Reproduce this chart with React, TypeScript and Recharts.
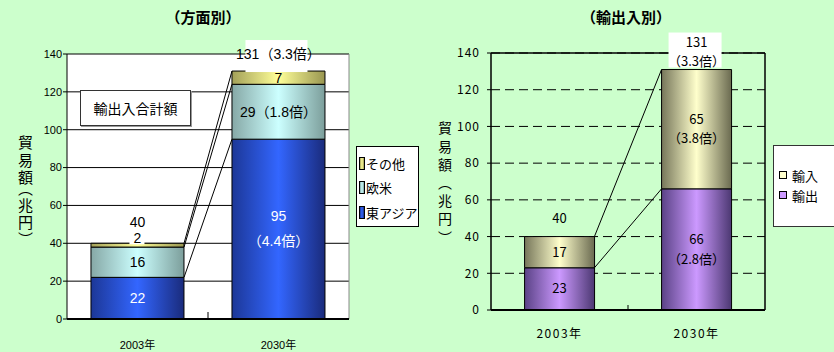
import {
  Bar,
  BarChart,
  CartesianGrid,
  LabelList,
  Legend,
  ReferenceLine,
  XAxis,
  YAxis,
} from 'recharts'

const JP = "'Noto Sans CJK JP', sans-serif"
const SANS = "'Liberation Sans', 'Noto Sans CJK JP', sans-serif"

const years = ['2003年', '2030年']
const yTicks = [0, 20, 40, 60, 80, 100, 120, 140]

// 方面別 (兆円)
const eastAsia = [22, 95]
const euroUS = [16, 29]
const otherArea = [2, 7]
const eastAsiaRatio = ['', '4.4倍']
const euroUSRatio = ['', '1.8倍']

// 輸出入別 (兆円)
const exportAmt = [23, 66]
const importAmt = [17, 65]
const exportRatio = ['', '2.8倍']
const importRatio = ['', '3.8倍']

const totalRatio = ['', '3.3倍']

const axisTitle = '貿易額（兆円）'

// each year sits in the middle of a one-unit slot on a 0..2 numeric x axis,
// so the series lines can be anchored to the bar edges
const areaRows = years.map((year, i) => ({
  pos: i + 0.5,
  year,
  eastAsia: eastAsia[i],
  euroUS: euroUS[i],
  other: otherArea[i],
  total: eastAsia[i] + euroUS[i] + otherArea[i],
}))

const tradeRows = years.map((year, i) => ({
  pos: i + 0.5,
  year,
  exp: exportAmt[i],
  imp: importAmt[i],
  total: exportAmt[i] + importAmt[i],
}))

const AREA_GAP = 0.17
const TRADE_GAP = 0.245

// edge / centre / edge colours for the cylinder-look fills
const shades = {
  blue: ['#1c3797', '#3366ff', '#1a2b7c'],
  cyan: ['#86a8a6', '#ccffff', '#7c9e9b'],
  yellow: ['#a3a058', '#ffff99', '#999650'],
  cream: ['#76765a', '#ffffcc', '#6a6a50'],
  purple: ['#5a4286', '#cc99ff', '#4c3872'],
}

const areaLegend = [
  { name: 'その他', c: shades.yellow },
  { name: '欧米', c: shades.cyan },
  { name: '東アジア', c: shades.blue },
]
const tradeLegend = [
  { name: '輸入', c: shades.cream },
  { name: '輸出', c: shades.purple },
]

const cylinder = (id: string, c: string[]) => (
  <linearGradient id={id} x1="0" y1="0" x2="1" y2="0">
    <stop offset="0" stopColor={c[0]} />
    <stop offset="0.5" stopColor={c[1]} />
    <stop offset="1" stopColor={c[2]} />
  </linearGradient>
)

const cssCylinder = (c: string[]) => `linear-gradient(90deg, ${c[0]}, ${c[1]}, ${c[2]})`

const rectOf = (p: any) => {
  const vb = p.viewBox ?? p
  return { x: vb.x as number, y: vb.y as number, width: vb.width as number, height: vb.height as number }
}

type InBarOpts = {
  ratios: string[]
  split: boolean
  color: string
  font: string
  size: number
  lead: number
}

// value (and growth ratio) centred inside a stacked segment
const inBar = (o: InBarOpts) => (p: any) => {
  const { x, y, width, height } = rectOf(p)
  const r = o.ratios[p.index]
  const rows = !r ? [`${p.value}`] : o.split ? [`${p.value}`, `（${r}）`] : [`${p.value}（${r}）`]
  const cx = x + width / 2
  const cy = y + height / 2 - ((rows.length - 1) * o.lead) / 2
  return (
    <text textAnchor="middle" fill={o.color} fontSize={o.size} fontFamily={o.font}>
      {rows.map((t, j) => (
        <tspan key={j} x={cx} y={cy + j * o.lead} dy="0.35em">
          {t}
        </tspan>
      ))}
    </text>
  )
}

// the thin その他 segment of 2003 gets its label on a white patch
const otherLabel = (p: any) => {
  const { x, y, width, height } = rectOf(p)
  const cx = x + width / 2
  if (p.index === 0) {
    return (
      <g>
        <rect x={cx - 8} y={y - 11} width={15} height={12} fill="#fff" />
        <text x={cx} y={y - 5} dy="0.35em" textAnchor="middle" fontSize={14} fontFamily={SANS}>
          {p.value}
        </text>
      </g>
    )
  }
  return (
    <text x={cx} y={y + height / 2} dy="0.35em" textAnchor="middle" fontSize={14} fontFamily={SANS}>
      {p.value}
    </text>
  )
}

const areaTotal = (p: any) => {
  const { x, y, width } = rectOf(p)
  const cx = x + width / 2
  const r = totalRatio[p.index]
  if (!r) {
    return (
      <text x={cx} y={y - 21} dy="0.35em" textAnchor="middle" fontSize={14} fontFamily={SANS}>
        {p.value}
      </text>
    )
  }
  return (
    <g>
      <rect x={cx - 33} y={y - 31} width={62} height={32} fill="#fff" />
      <text x={cx} y={y - 17} dy="0.35em" textAnchor="middle" fontSize={14} fontFamily={SANS}>
        {`${p.value}（${r}）`}
      </text>
    </g>
  )
}

const tradeTotal = (p: any) => {
  const { x, y, width } = rectOf(p)
  const cx = x + width / 2
  const r = totalRatio[p.index]
  if (!r) {
    return (
      <text x={cx} y={y - 18} dy="0.35em" textAnchor="middle" fontSize={13} fontFamily={JP}>
        {p.value}
      </text>
    )
  }
  return (
    <g>
      <rect x={cx - 28} y={y - 37} width={53} height={35} fill="#fff" />
      <text textAnchor="middle" fontSize={13} fontFamily={JP}>
        <tspan x={cx} y={y - 27} dy="0.35em">{p.value}</tspan>
        <tspan x={cx} y={y - 8} dy="0.35em">{`（${r}）`}</tspan>
      </text>
    </g>
  )
}

// year labels at 0.5 / 1.5, and a short upward tick on the slot boundary at 1
const yearTick = (margin: number, len: number, size: number, font: string, spacing: number) => (p: any) => {
  const v = p.payload.value
  if (v === 1) {
    const y0 = p.y - margin
    return <line x1={p.x} x2={p.x} y1={y0} y2={y0 - len} stroke="#000" />
  }
  return (
    <text x={p.x} y={p.y} dy="0.71em" textAnchor="middle" fontSize={size} fontFamily={font} letterSpacing={spacing}>
      {years[Math.round(v - 0.5)]}
    </text>
  )
}

const seriesLines = (levels: number[][], gap: number) =>
  levels.map((lv, k) => (
    <ReferenceLine
      key={`s${k}`}
      segment={[
        { x: 1 - gap, y: lv[0] },
        { x: 1 + gap, y: lv[1] },
      ]}
      stroke="#000"
    />
  ))

const areaLevels = [
  areaRows.map((r) => r.eastAsia),
  areaRows.map((r) => r.eastAsia + r.euroUS),
  areaRows.map((r) => r.total),
]
const tradeLevels = [tradeRows.map((r) => r.exp), tradeRows.map((r) => r.total)]

// vertical axis title, set in one vertical-rl run
const VerticalTitle = ({
  left,
  top,
  size,
  spacing,
  tightParens,
}: {
  left: number
  top: number
  size: number
  spacing: number
  tightParens: boolean
}) => (
  <div
    style={{
      position: 'absolute',
      left,
      top,
      width: 20,
      lineHeight: '20px',
      writingMode: 'vertical-rl',
      fontFamily: JP,
      fontSize: size,
      letterSpacing: spacing,
      fontFeatureSettings: tightParens ? '"vpal"' : undefined,
      color: '#000',
    }}
  >
    {axisTitle}
  </div>
)

const AreaLegend = () => (
  <div
    style={{
      boxSizing: 'border-box',
      width: 63,
      height: 81,
      background: '#fff',
      border: '1px solid #000',
      paddingTop: 4,
      fontFamily: JP,
      fontSize: 13,
      color: '#000',
    }}
  >
    {areaLegend.map((it) => (
      <div key={it.name} style={{ display: 'flex', alignItems: 'center', height: 24.5, paddingLeft: 2 }}>
        <span
          style={{
            display: 'inline-block',
            boxSizing: 'border-box',
            width: 6,
            height: 13,
            border: '1px solid #000',
            background: cssCylinder(it.c),
            marginRight: 1,
          }}
        />
        {it.name}
      </div>
    ))}
  </div>
)

const TradeLegend = () => (
  <div
    style={{
      boxSizing: 'border-box',
      width: 80,
      height: 82,
      background: '#fff',
      border: '1px solid #333',
      paddingTop: 19,
      fontFamily: JP,
      fontSize: 13,
      color: '#000',
    }}
  >
    {tradeLegend.map((it) => (
      <div key={it.name} style={{ display: 'flex', alignItems: 'center', height: 20, paddingLeft: 5 }}>
        <span
          style={{
            display: 'inline-block',
            boxSizing: 'border-box',
            width: 8,
            height: 8,
            border: '1.5px solid #000',
            background: it.c[1],
            marginRight: 5,
          }}
        />
        {it.name}
      </div>
    ))}
  </div>
)

const AreaChart = () => (
  <BarChart
    width={420}
    height={352}
    data={areaRows}
    margin={{ top: 54, right: 71, bottom: 3, left: 0 }}
    barCategoryGap={`${AREA_GAP * 100}%`}
  >
    <defs>
      {cylinder('gBlue', shades.blue)}
      {cylinder('gCyan', shades.cyan)}
      {cylinder('gYellow', shades.yellow)}
    </defs>
    <CartesianGrid vertical={false} stroke="#000" fill="#fff" fillOpacity={1} />
    <XAxis
      type="number"
      dataKey="pos"
      domain={[0, 2]}
      ticks={[0.5, 1, 1.5]}
      interval={0}
      height={30}
      tickSize={0}
      tickMargin={22}
      tickLine={false}
      axisLine={{ stroke: '#000', strokeWidth: 2 }}
      tick={yearTick(22, 7, 11, SANS, 0)}
    />
    <YAxis
      domain={[0, 140]}
      ticks={yTicks}
      interval={0}
      width={67}
      tickSize={4}
      tickMargin={1}
      axisLine={{ stroke: '#000' }}
      tickLine={{ stroke: '#000' }}
      tick={{ fill: '#000', fontSize: 11, fontFamily: SANS }}
    />
    <ReferenceLine x={2} stroke="#888" />
    {seriesLines(areaLevels, AREA_GAP)}
    <Bar dataKey="eastAsia" name="東アジア" stackId="a" fill="url(#gBlue)" stroke="#000" isAnimationActive={false}>
      <LabelList
        dataKey="eastAsia"
        content={inBar({ ratios: eastAsiaRatio, split: true, color: '#fff', font: SANS, size: 14, lead: 25 })}
      />
    </Bar>
    <Bar dataKey="euroUS" name="欧米" stackId="a" fill="url(#gCyan)" stroke="#000" isAnimationActive={false}>
      <LabelList
        dataKey="euroUS"
        content={inBar({ ratios: euroUSRatio, split: false, color: '#000', font: SANS, size: 14, lead: 0 })}
      />
    </Bar>
    <Bar dataKey="other" name="その他" stackId="a" fill="url(#gYellow)" stroke="#000" isAnimationActive={false}>
      <LabelList dataKey="other" content={otherLabel} />
      <LabelList dataKey="total" content={areaTotal} />
    </Bar>
    <Legend
      layout="vertical"
      align="center"
      verticalAlign="middle"
      wrapperStyle={{ left: 356, top: 146, width: 63, height: 81 }}
      content={() => <AreaLegend />}
    />
  </BarChart>
)

const TradeChart = () => (
  <BarChart
    width={414}
    height={352}
    data={tradeRows}
    margin={{ top: 53, right: 69, bottom: 12, left: 0 }}
    barCategoryGap={`${TRADE_GAP * 100}%`}
  >
    <defs>
      {cylinder('gCream', shades.cream)}
      {cylinder('gPurple', shades.purple)}
    </defs>
    <CartesianGrid vertical={false} stroke="#000" strokeDasharray="9 5" />
    <XAxis
      type="number"
      dataKey="pos"
      domain={[0, 2]}
      ticks={[0.5, 1, 1.5]}
      interval={0}
      height={30}
      tickSize={0}
      tickMargin={19}
      tickLine={false}
      axisLine={{ stroke: '#000', strokeWidth: 2 }}
      tick={yearTick(19, 5, 12, JP, 1.5)}
    />
    <YAxis
      domain={[0, 140]}
      ticks={yTicks}
      interval={0}
      width={71}
      tickSize={4}
      tickMargin={7}
      axisLine={{ stroke: '#000', strokeWidth: 1.5 }}
      tickLine={{ stroke: '#000' }}
      tick={{ fill: '#000', fontSize: 12, fontFamily: JP, letterSpacing: 1 }}
    />
    <ReferenceLine y={140} stroke="#000" strokeWidth={1.5} />
    <ReferenceLine x={2} stroke="#000" strokeWidth={1.5} />
    {seriesLines(tradeLevels, TRADE_GAP)}
    <Bar dataKey="exp" name="輸出" stackId="t" fill="url(#gPurple)" stroke="#000" isAnimationActive={false}>
      <LabelList
        dataKey="exp"
        content={inBar({ ratios: exportRatio, split: true, color: '#000', font: JP, size: 13, lead: 20 })}
      />
    </Bar>
    <Bar dataKey="imp" name="輸入" stackId="t" fill="url(#gCream)" stroke="#000" isAnimationActive={false}>
      <LabelList
        dataKey="imp"
        content={inBar({ ratios: importRatio, split: true, color: '#000', font: JP, size: 13, lead: 19 })}
      />
      <LabelList dataKey="total" content={tradeTotal} />
    </Bar>
    <Legend
      layout="vertical"
      align="center"
      verticalAlign="middle"
      wrapperStyle={{ left: 353, top: 145, width: 80, height: 82 }}
      content={() => <TradeLegend />}
    />
  </BarChart>
)

export default function App() {
  return (
    <div
      style={{
        position: 'absolute',
        left: 0,
        top: 0,
        width: 834,
        height: 352,
        background: '#ccffcc',
        overflow: 'hidden',
        fontFamily: JP,
      }}
    >
      <div style={{ position: 'absolute', left: 0, top: 0 }}>
        <AreaChart />
      </div>
      <div style={{ position: 'absolute', left: 420, top: 0 }}>
        <TradeChart />
      </div>

      <div style={{ position: 'absolute', left: 103, top: 6, width: 200, textAlign: 'center', fontSize: 15, fontWeight: 700 }}>
        （方面別）
      </div>
      <div style={{ position: 'absolute', left: 526, top: 6, width: 200, textAlign: 'center', fontSize: 15, fontWeight: 700 }}>
        （輸出入別）
      </div>

      <div
        style={{
          position: 'absolute',
          left: 80,
          top: 90,
          width: 111,
          height: 36,
          boxSizing: 'border-box',
          background: '#fff',
          border: '1px solid #333',
          boxShadow: '1px 1px 0 #999',
          fontSize: 14,
          lineHeight: '34px',
          textAlign: 'center',
        }}
      >
        輸出入合計額
      </div>

      <VerticalTitle left={15} top={135} size={15} spacing={2.5} tightParens />
      <VerticalTitle left={435} top={121} size={14} spacing={4.2} tightParens={false} />
    </div>
  )
}
